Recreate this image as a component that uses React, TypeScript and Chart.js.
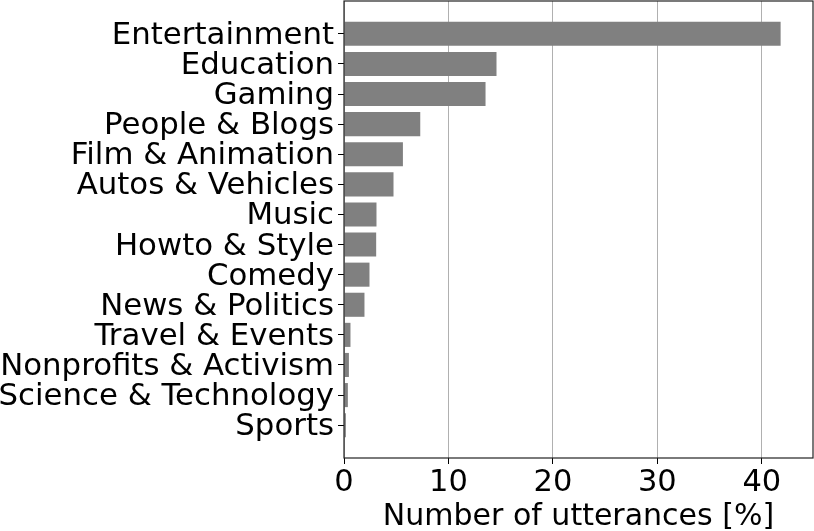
import React, { useEffect, useRef } from "react";
import { Chart, registerables } from "chart.js";

Chart.register(...registerables);

const categories = [
  "Entertainment",
  "Education",
  "Gaming",
  "People & Blogs",
  "Film & Animation",
  "Autos & Vehicles",
  "Music",
  "Howto & Style",
  "Comedy",
  "News & Politics",
  "Travel & Events",
  "Nonprofits & Activism",
  "Science & Technology",
  "Sports",
];

const utterancePercent = [
  41.8, 14.6, 13.55, 7.3, 5.64, 4.74, 3.11, 3.08, 2.44, 1.96, 0.62, 0.47, 0.37, 0.18,
];

const xTickValues = [0, 10, 20, 30, 40];
const xAxisTitle = "Number of utterances [%]";

const FONT = "'DejaVu Sans', sans-serif";

const frame = {
  id: "frame",
  afterDraw(chart: any) {
    const { ctx, chartArea } = chart;
    ctx.save();
    ctx.strokeStyle = "#222";
    ctx.lineWidth = 1.2;
    ctx.strokeRect(chartArea.left, chartArea.top, chartArea.right - chartArea.left, chartArea.bottom - chartArea.top);
    ctx.restore();
  },
};

export default function App() {
  const ref = useRef<HTMLCanvasElement | null>(null);

  useEffect(() => {
    document.body.style.margin = "0";
    const canvas = ref.current!;
    const chart = new Chart(canvas, {
      type: "bar",
      data: {
        datasets: [
          {
            data: utterancePercent.map((v, i) => ({ x: v, y: i })),
            backgroundColor: "#808080",
            borderWidth: 0,
            categoryPercentage: 1,
            barPercentage: 0.8,
          },
        ],
      },
      options: {
        indexAxis: "y",
        animation: false,
        responsive: false,
        maintainAspectRatio: false,
        layout: { padding: { top: 1, right: 1, left: 0, bottom: 0 } },
        plugins: { legend: { display: false }, tooltip: { enabled: false } },
        scales: {
          y: {
            type: "linear",
            reverse: true,
            bounds: "data",
            offset: false,
            min: -1.09,
            max: 14.09,
            afterBuildTicks: (scale: any) => {
              scale.ticks = categories.map((_, i) => ({ value: i }));
            },
            afterFit: (scale: any) => {
              scale.width = 344;
              scale.paddingTop = 0;
              scale.paddingBottom = 0;
            },
            grid: {
              offset: false,
              drawOnChartArea: false,
              drawTicks: true,
              tickLength: 6,
              tickColor: "#000",
            },
            border: { display: false },
            ticks: {
              autoSkip: false,
              includeBounds: false,
              padding: 4,
              labelOffset: 2,
              color: "#000",
              font: { family: FONT, size: 30.8 },
              callback: (v: any) => categories[v as number] ?? "",
            },
          },
          x: {
            type: "linear",
            bounds: "data",
            offset: false,
            min: 0,
            max: 44.9,
            afterBuildTicks: (scale: any) => {
              scale.ticks = xTickValues.map((v) => ({ value: v }));
            },
            afterFit: (scale: any) => {
              scale.height = 73;
              scale.paddingLeft = 0;
              scale.paddingRight = 0;
            },
            grid: {
              offset: false,
              color: "#b0b0b0",
              lineWidth: 1,
              drawTicks: true,
              tickLength: 6,
              tickColor: "#000",
            },
            border: { display: false },
            ticks: {
              includeBounds: false,
              padding: 1,
              color: "#000",
              maxRotation: 0,
              font: { family: FONT, size: 30.5 },
            },
            title: {
              display: true,
              text: xAxisTitle,
              color: "#000",
              padding: { top: 0, bottom: -4 },
              font: { family: FONT, size: 30 },
            },
          },
        },
      },
      plugins: [frame],
    } as any);
    return () => chart.destroy();
  }, []);

  return <canvas ref={ref} width={814} height={531} style={{ display: "block" }} />;
}
